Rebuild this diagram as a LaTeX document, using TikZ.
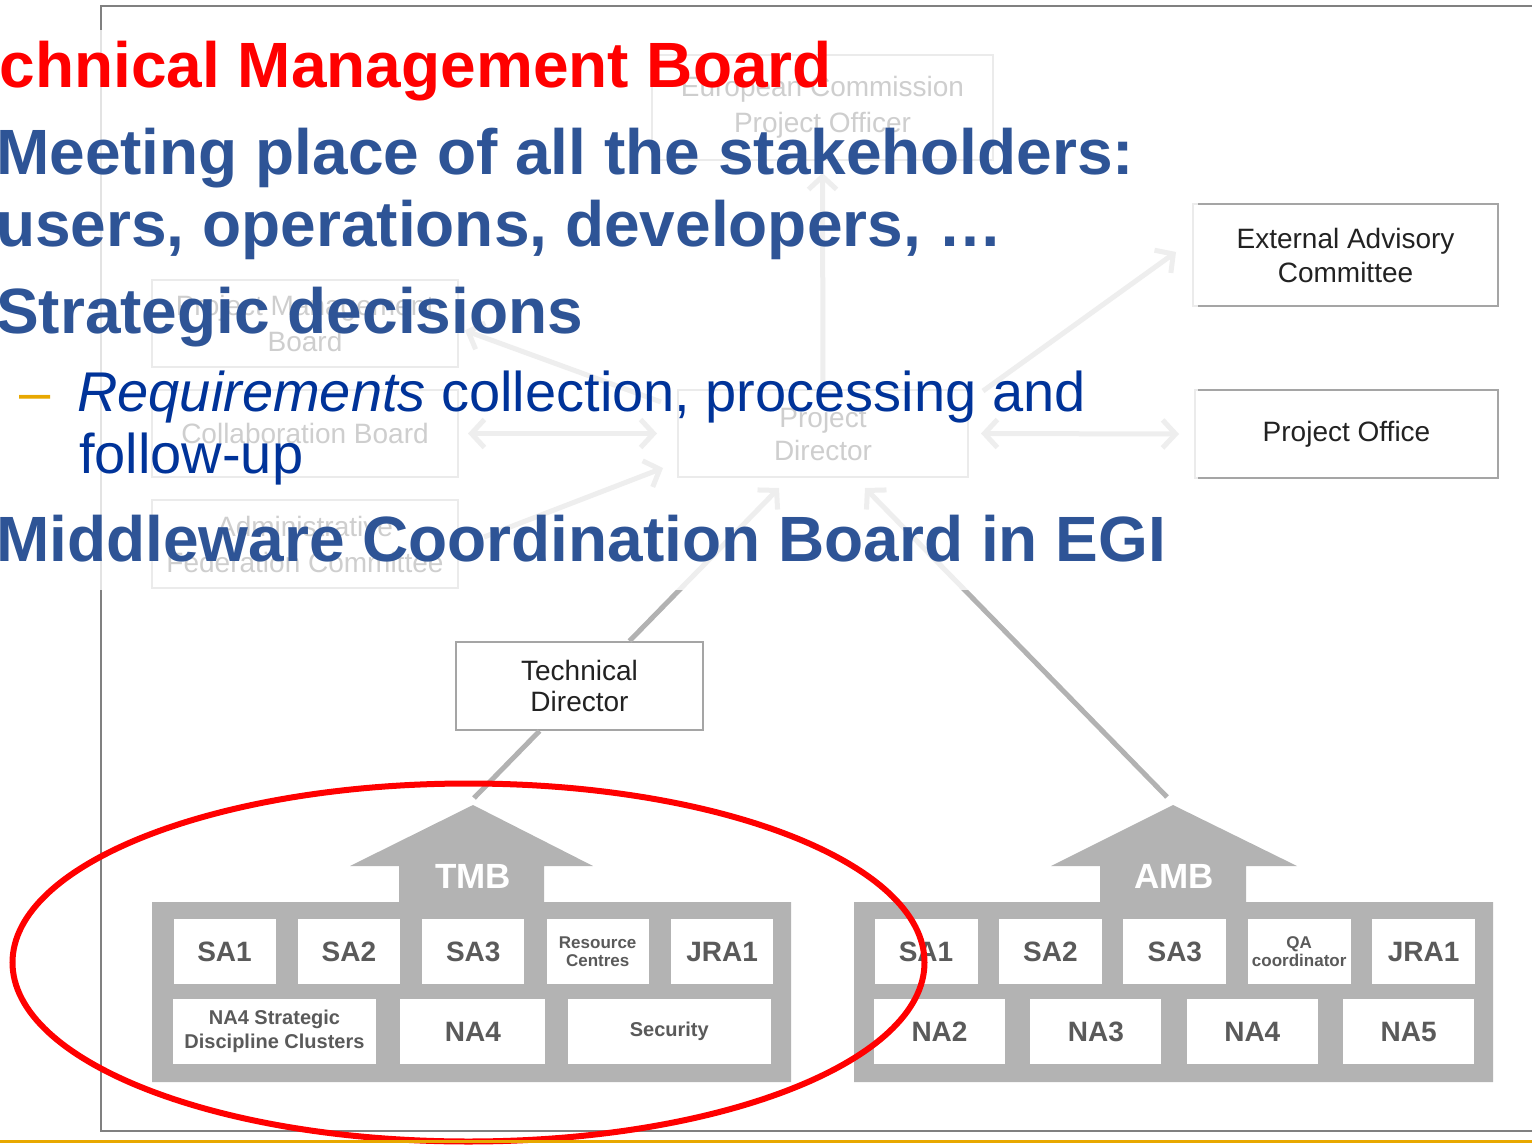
\documentclass[tikz,border=0pt]{standalone}
\usepackage{fontspec}
\setmainfont{Liberation Sans}
\usetikzlibrary{positioning, arrows.meta, calc}

\definecolor{titlered}{RGB}{255,0,0}
\definecolor{headblue}{RGB}{46,84,150}
\definecolor{itemblue}{RGB}{0,51,153}
\definecolor{dashgold}{RGB}{232,168,0}
\definecolor{framegray}{RGB}{128,128,128}
\definecolor{boxline}{RGB}{165,165,165}
\definecolor{boxtext}{RGB}{34,34,34}
\definecolor{linkgray}{RGB}{178,178,178}
\definecolor{housegray}{RGB}{179,179,179}
\definecolor{celltext}{RGB}{90,90,90}

\begin{document}
\begin{tikzpicture}[
    x=1pt, y=-1pt,
    >={Straight Barb[length=13pt, width=28pt]},
    % Styles
    orgbox/.style={ % Box of the management structure
        rectangle,
        draw=boxline,
        line width=2pt,
        fill=white,
        inner sep=0pt,
        align=center,
        text=boxtext,
        font=\fontsize{28}{34}\selectfont
    },
    link/.style={ % Line between boxes
        draw=linkgray,
        line width=5pt
    },
    cell/.style={ % White cell inside a board
        fill=white,
        inner sep=0pt,
        minimum height=65pt,
        align=center,
        text=celltext,
        font=\bfseries\fontsize{28}{30}\selectfont
    },
    smallcell/.style={font=\bfseries\fontsize{20}{24}\selectfont},
    tinycell/.style={font=\bfseries\fontsize{17}{18.5}\selectfont},
    boardname/.style={ % Board name on the arrow
        text=white,
        inner sep=0pt,
        font=\bfseries\fontsize{35}{35}\selectfont
    },
    slide/.style={ % Slide text line
        anchor=base west,
        inner sep=0pt
    }
]
    \useasboundingbox (0,0) rectangle (1532,1145);

    % Picture frame
    \draw[framegray, line width=1.5pt] (1532,6) -- (101,6) -- (101,1131) -- (1532,1131);

    % Management structure boxes
    \node[orgbox, minimum width=341pt, minimum height=105pt, font=\fontsize{28}{36}\selectfont] (ec) at (822.5,107.5) {European Commission\\Project Officer};
    \node[orgbox, minimum width=306pt, minimum height=87pt, font=\fontsize{28}{36}\selectfont] (pmb) at (305,323.5) {Project Management\\Board};
    \node[orgbox, minimum width=306pt, minimum height=87pt] (cb) at (305,433.5) {Collaboration Board};
    \node[orgbox, minimum width=306pt, minimum height=88pt, font=\fontsize{28}{36}\selectfont] (afc) at (305,544) {Administrative\\Federation Committee};
    \node[orgbox, minimum width=290pt, minimum height=87pt, font=\fontsize{28}{33}\selectfont] (pd) at (823,433.5) {Project\\Director};
    \node[orgbox, minimum width=305pt, minimum height=102pt] (eac) at (1345.5,255) {External Advisory\\Committee};
    \node[orgbox, minimum width=303pt, minimum height=88pt] (po) at (1346.5,434) {Project Office};
    \node[orgbox, minimum width=247pt, minimum height=88pt, font=\fontsize{28}{31}\selectfont] (td) at (579.5,686) {Technical\\Director};

    % Boards
    \fill[housegray] (152,1082) -- (152,902) -- (399,902) -- (399,866) -- (350,866) -- (473,805)
        -- (593,866) -- (544,866) -- (544,902) -- (791,902) -- (791,1082) -- cycle;
    \coordinate (tmbtop) at (473,805);
    \node[boardname] (tmb) at (473,876) {TMB};
    \fill[housegray] (854,1082) -- (854,902) -- (1100,902) -- (1100,866) -- (1051,866) -- (1173,805)
        -- (1297,866) -- (1246,866) -- (1246,902) -- (1493,902) -- (1493,1082) -- cycle;
    \coordinate (ambtop) at (1173,805);
    \node[boardname] (amb) at (1174,876) {AMB};

    % TMB cells
    \node[cell, minimum width=102pt] (tsa1) at (224.5,951.5) {SA1};
    \node[cell, minimum width=102pt] (tsa2) [right=22pt of tsa1] {SA2};
    \node[cell, minimum width=102pt] (tsa3) [right=22pt of tsa2] {SA3};
    \node[cell, tinycell, minimum width=102pt] (trc) [right=22pt of tsa3] {Resource\\Centres};
    \node[cell, minimum width=102pt] (tjra1) [right=22pt of trc] {JRA1};
    \node[cell, smallcell, minimum width=203pt] (tdisc) at (274.5,1031.5) {NA4 Strategic\\Discipline Clusters};
    \node[cell, minimum width=145pt] (tna4) [right=24pt of tdisc] {NA4};
    \node[cell, smallcell, minimum width=203pt] (tsec) [right=22pt of tna4] {Security};

    % AMB cells
    \node[cell, minimum width=103pt] (asa1) at (926,951.5) {SA1};
    \node[cell, minimum width=103pt] (asa2) [right=21pt of asa1] {SA2};
    \node[cell, minimum width=103pt] (asa3) [right=21pt of asa2] {SA3};
    \node[cell, tinycell, minimum width=103pt] (aqa) [right=21pt of asa3] {QA\\coordinator};
    \node[cell, minimum width=103pt] (ajra1) [right=21pt of aqa] {JRA1};
    \node[cell, minimum width=131pt] (ana2) at (939.5,1031.5) {NA2};
    \node[cell, minimum width=131pt] (ana3) [right=25pt of ana2] {NA3};
    \node[cell, minimum width=131pt] (ana4) [right=25pt of ana3] {NA4};
    \node[cell, minimum width=131pt] (ana5) [right=25pt of ana4] {NA5};

    % Links
    \draw[link, ->] (pd.north) -- ([shift={(0,12)}]ec.south);
    \draw[link, ->] ([shift={(-16,13)}]pd.north west) -- ([shift={(6,7)}]pmb.east);
    \draw[link, <->] ([shift={(9,0)}]cb.east) -- ([shift={(-20,0)}]pd.west);
    \draw[link, ->] ([shift={(25,-7)}]afc.east) -- ([shift={(-14,-10)}]pd.south west);
    \draw[link, <->] ([shift={(12,0)}]pd.east) -- ([shift={(-15,0)}]po.west);
    \draw[link, ->] ([shift={(14,2)}]pd.north east) -- ([shift={(-16,-3)}]eac.west);
    \draw[link, ->] ([shift={(50,0)}]td.north) -- ([shift={(-44,10)}]pd.south);
    \draw[link, ->] ([shift={(-6,-8)}]ambtop) -- ([shift={(42,10)}]pd.south);
    \draw[link] ([shift={(1,-7)}]tmbtop) -- ([shift={(-40,0)}]td.south);

    % Text box of the slide fades the upper part
    \fill[white, opacity=0.78] (0,30) rectangle (1198,590);

    % Slide text
    \node[slide, anchor=base east, text=titlered, font=\bfseries\fontsize{64}{64}\selectfont] (title) at (832,88) {Technical Management Board};
    \node[slide, text=headblue, font=\bfseries\fontsize{64}{64}\selectfont] (meet) at (-4,175) {Meeting place of all the stakeholders:};
    \node[slide, text=headblue, font=\bfseries\fontsize{64}{64}\selectfont] (users) at (-4,246) {users, operations, developers, …};
    \node[slide, text=headblue, font=\bfseries\fontsize{64}{64}\selectfont] (strat) at (-4,333) {Strategic decisions};
    \node[slide, text=dashgold, font=\fontsize{56}{56}\selectfont] (dash) at (19,411) {–};
    \node[slide, text=itemblue, font=\fontsize{56}{56}\selectfont] (req) at (77,411) {\textit{Requirements} collection, processing and};
    \node[slide, text=itemblue, font=\fontsize{56}{56}\selectfont] (follow) at (79,473) {follow-up};
    \node[slide, text=headblue, font=\bfseries\fontsize{64}{64}\selectfont] (mcb) at (-4,561) {Middleware Coordination Board in EGI};

    % Highlight and footer line
    \draw[titlered, line width=6pt] (468.5,962.5) ellipse [x radius=456pt, y radius=179pt];
    \draw[dashgold, line width=3pt] (0,1141) -- (1532,1141);
\end{tikzpicture}
\end{document}
